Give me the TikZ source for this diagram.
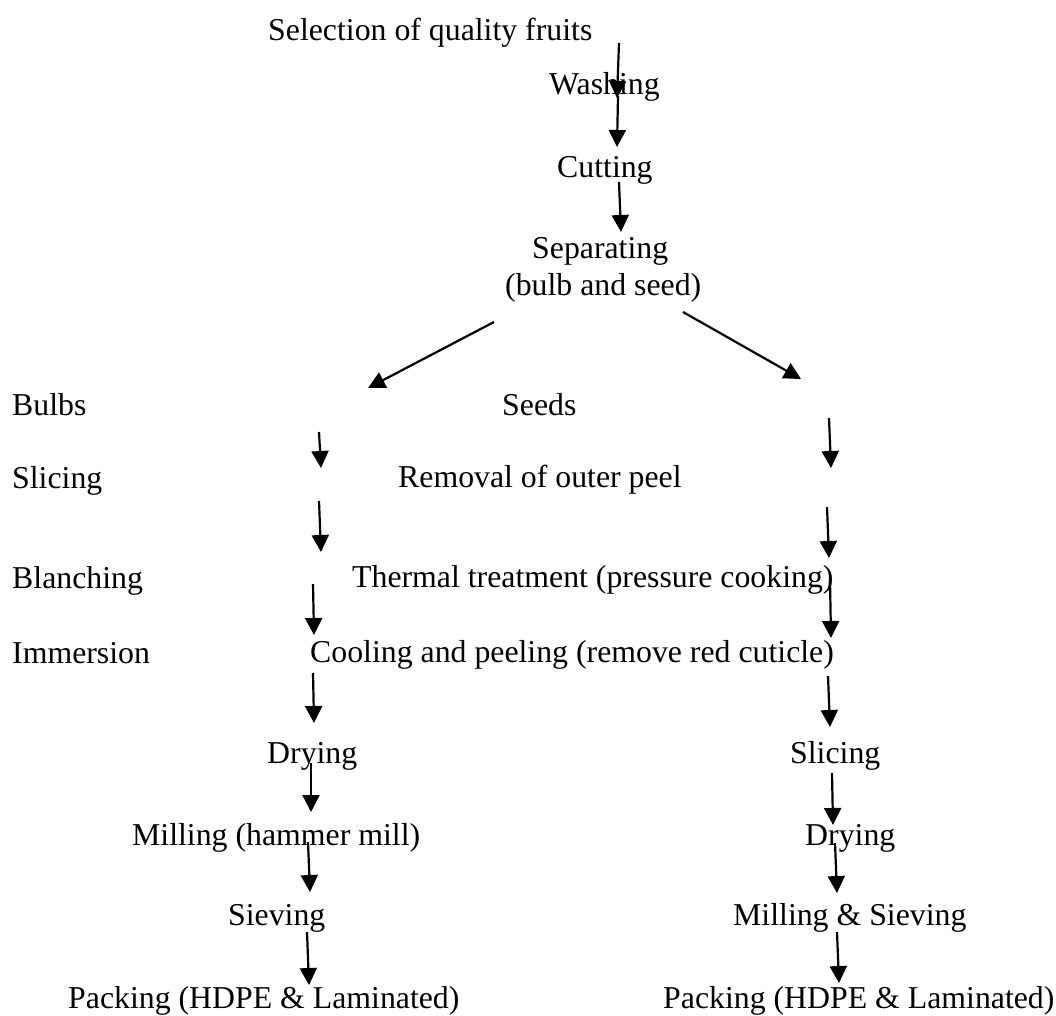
\documentclass[tikz,border=0pt]{standalone}
\usepackage{fontspec}
\setmainfont{Liberation Serif}
\usetikzlibrary{arrows.meta}
\begin{document}
\begin{tikzpicture}[x=1pt,y=-1pt,
  lbl/.style={anchor=base west,inner sep=0pt,font=\fontsize{31.8}{38}\selectfont},
  flow/.style={line width=2.2pt,-{Triangle[width=17pt,length=17pt]}}]
\useasboundingbox (0,0) rectangle (1056,1015);
% texts
\node[lbl] (sel) at (268,40) {Selection of quality fruits};
\node[lbl] (wash) at (549,94) {Washing};
\node[lbl] (cut) at (557,177) {Cutting};
\node[lbl] (sep) at (532,258) {Separating};
\node[lbl] (bs) at (505,295) {(bulb and seed)};
\node[lbl] (bulbs) at (12,415) {Bulbs};
\node[lbl] (seeds) at (502,415) {Seeds};
\node[lbl] (sliceL) at (12,488) {Slicing};
\node[lbl] (removal) at (398,487) {Removal of outer peel};
\node[lbl] (blanch) at (12,588) {Blanching};
\node[lbl] (thermal) at (352,587) {Thermal treatment (pressure cooking)};
\node[lbl] (immersion) at (12,663) {Immersion};
\node[lbl] (cooling) at (310,662) {Cooling and peeling (remove red cuticle)};
\node[lbl] (dryL) at (267,763) {Drying};
\node[lbl] (sliceR) at (790,763) {Slicing};
\node[lbl] (mill) at (132,845) {Milling (hammer mill)};
\node[lbl] (dryR) at (805,845) {Drying};
\node[lbl] (sieve) at (228,925) {Sieving};
\node[lbl] (millsieve) at (733,925) {Milling \& Sieving};
\node[lbl] (packL) at (68,1008) {Packing (HDPE \& Laminated)};
\node[lbl] (packR) at (663,1008) {Packing (HDPE \& Laminated)};
% arrow end points
\coordinate (a1s) at (619,43);  \coordinate (a1e) at (617,98);
\coordinate (a2s) at (618,96);  \coordinate (a2e) at (617,147);
\coordinate (a3s) at (619,182); \coordinate (a3e) at (621,232);
\coordinate (dLs) at (494,322); \coordinate (dLe) at (368,388);
\coordinate (dRs) at (683,312); \coordinate (dRe) at (801,379);
\coordinate (l1s) at (319,432); \coordinate (l1e) at (321,468);
\coordinate (l2s) at (319,501); \coordinate (l2e) at (321,552);
\coordinate (l3s) at (313,584); \coordinate (l3e) at (314,635);
\coordinate (l4s) at (313,673); \coordinate (l4e) at (314,723);
\coordinate (l5s) at (311,763); \coordinate (l5e) at (311,812);
\coordinate (l6s) at (308,842); \coordinate (l6e) at (310,892);
\coordinate (l7s) at (307,932); \coordinate (l7e) at (309,985);
\coordinate (r1s) at (829,418); \coordinate (r1e) at (831,468);
\coordinate (r2s) at (827,507); \coordinate (r2e) at (829,558);
\coordinate (r3s) at (830,580); \coordinate (r3e) at (831,638);
\coordinate (r4s) at (828,676); \coordinate (r4e) at (830,727);
\coordinate (r5s) at (832,773); \coordinate (r5e) at (833,825);
\coordinate (r6s) at (835,843); \coordinate (r6e) at (837,893);
\coordinate (r7s) at (837,932); \coordinate (r7e) at (839,983);
% arrows
\foreach \a in {a1,a2,a3,dL,dR,l1,l2,l3,l4,l5,l6,l7,r1,r2,r3,r4,r5,r6,r7}
  \draw[flow] (\a s) -- (\a e);
\end{tikzpicture}
\end{document}
